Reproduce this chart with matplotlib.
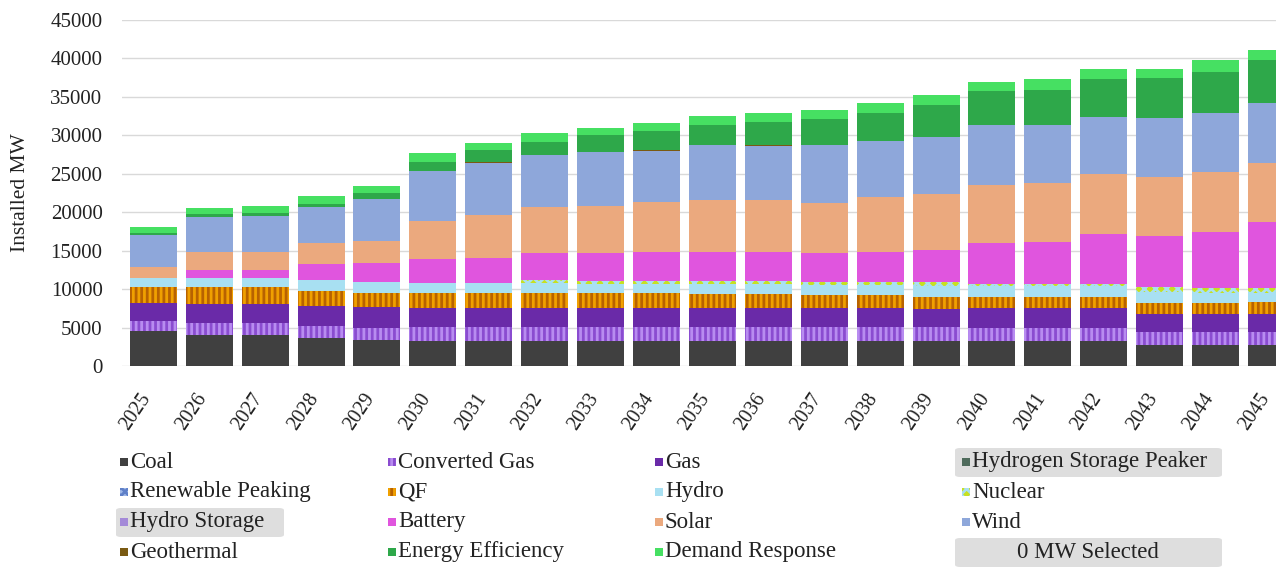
import matplotlib
matplotlib.use("Agg")
import matplotlib.pyplot as plt
from matplotlib.patches import Rectangle, FancyBboxPatch
from matplotlib.transforms import ScaledTranslation
import numpy as np

years = [str(y) for y in range(2025, 2046)]

coal      = [4500, 4050, 4050, 3700, 3400, 3250, 3250, 3250, 3250, 3250, 3200, 3200, 3200, 3200, 3200, 3200, 3200, 3200, 2750, 2750, 2750]
conv_gas  = [1300, 1550, 1550, 1500, 1600, 1850, 1780, 1800, 1800, 1800, 1900, 1900, 1900, 1900, 1850, 1700, 1700, 1700, 1700, 1700, 1700]
gas       = [2400, 2450, 2450, 2600, 2630, 2400, 2470, 2450, 2450, 2450, 2400, 2400, 2400, 2400, 2350, 2600, 2600, 2600, 2300, 2300, 2300]
h2_peaker = [0] * 21
ren_peak  = [0] * 21
qf        = [2050, 2250, 2250, 2000, 1900, 2030, 2030, 2000, 1950, 1950, 1800, 1800, 1750, 1750, 1550, 1500, 1500, 1500, 1500, 1500, 1600]
hydro     = [1150, 1100, 1100, 1400, 1430, 1300, 1220, 1330, 1200, 1200, 1350, 1350, 1300, 1300, 1450, 1350, 1350, 1350, 1400, 1300, 1100]
nuclear   = [0, 0, 0, 0, 0, 0, 0, 350, 350, 350, 400, 400, 400, 400, 550, 350, 350, 350, 570, 550, 650]
hydro_sto = [0] * 21
battery   = [0, 1150, 1150, 2050, 2470, 3040, 3330, 3550, 3650, 3860, 3810, 3810, 3700, 3910, 4130, 5250, 5460, 6460, 6680, 7360, 8660]
solar     = [1500, 2300, 2300, 2700, 2860, 5020, 5550, 5900, 6150, 6500, 6720, 6720, 6580, 7070, 7280, 7580, 7590, 7800, 7710, 7800, 7670]
wind      = [4100, 4550, 4650, 4700, 5380, 6500, 6720, 6800, 6970, 6570, 7150, 7000, 7500, 7360, 7450, 7800, 7580, 7370, 7590, 7670, 7800]
geothermal= [0, 0, 0, 0, 0, 0, 200, 0, 0, 150, 0, 150, 0, 0, 0, 0, 0, 0, 0, 0, 0]
eff       = [350, 400, 450, 400, 780, 1170, 1530, 1730, 2260, 2510, 2600, 3040, 3340, 3640, 4120, 4460, 4630, 4940, 5200, 5340, 5570]
dr        = [750, 750, 800, 1000, 950, 1090, 950, 1080, 860, 1040, 1170, 1080, 1210, 1300, 1300, 1170, 1310, 1340, 1210, 1530, 1280]

series = [
    ("Coal", coal, "#404040", None, None),
    ("Converted Gas", conv_gas, "#8a4cd0", "|||", "#b88cf0"),
    ("Gas", gas, "#6a2aa8", None, None),
    ("Hydrogen Storage Peaker", h2_peaker, "#4f6b5c", None, None),
    ("Renewable Peaking", ren_peak, "#9fb8e8", "xxxx", "#5f80c8"),
    ("QF", qf, "#f0a000", "|||", "#b86200"),
    ("Hydro", hydro, "#a8e0f2", None, None),
    ("Nuclear", nuclear, "#c8e020", "xxx", "#a8e0f2"),
    ("Hydro Storage", hydro_sto, "#a48ad8", None, None),
    ("Battery", battery, "#e055de", None, None),
    ("Solar", solar, "#eba97e", None, None),
    ("Wind", wind, "#8ea7da", None, None),
    ("Geothermal", geothermal, "#7a5a12", None, None),
    ("Energy Efficiency", eff, "#2ea84a", None, None),
    ("Demand Response", dr, "#46e062", None, None),
]

plt.rcParams['font.family'] = ['Liberation Serif', 'DejaVu Serif']
plt.rcParams['hatch.linewidth'] = 2.0

W, H = 1276, 582
fig = plt.figure(figsize=(W / 100, H / 100), dpi=100)
ax = fig.add_axes([122 / W, 216 / H, (W - 122) / W, (562 - 216) / H])

x = np.arange(len(years))
bottom = np.zeros(len(years))
for name, vals, col, hatch, hcol in series:
    v = np.array(vals, dtype=float)
    if hatch:
        ax.bar(x, v, 0.84, bottom=bottom, color=col, edgecolor=hcol, hatch=hatch, linewidth=0, zorder=2)
    else:
        ax.bar(x, v, 0.84, bottom=bottom, color=col, linewidth=0, zorder=2)
    bottom += v

ax.set_xlim(-0.56, 20.08)
ax.set_ylim(0, 45000)
ax.set_yticks(range(0, 45001, 5000))
ax.yaxis.grid(True, color="#d9d9d9", linewidth=1.0, zorder=0)
ax.set_axisbelow(True)
for s in ax.spines.values():
    s.set_visible(False)
ax.tick_params(axis="both", length=0, colors="#222222")
ax.tick_params(axis="y", pad=14, labelsize=15)
ax.set_xticks(x)
ax.set_xticklabels(years, rotation=56, ha="right", rotation_mode="anchor", fontsize=14.5)
ax.tick_params(axis="x", pad=17)
shift = ScaledTranslation(-14 / 100, 0, fig.dpi_scale_trans)
for lab in ax.get_xticklabels():
    lab.set_transform(lab.get_transform() + shift)
ax.set_ylabel("Installed MW", fontsize=15.5, color="#222222")
ax.yaxis.set_label_coords((30 - 122) / (W - 122), 0.5)

# Legend (manual, row-major, 4 columns)
col_x = [120, 388, 655, 962]
row_y = [462, 492, 522, 552]

def fx(px):
    return px / W

def fy(py):
    return (H - py) / H

# highlight boxes
for (x0, y0, x1, y1) in [(955, 448, 1222, 477), (116, 508, 284, 537), (955, 538, 1222, 567)]:
    fig.add_artist(FancyBboxPatch((fx(x0), fy(y1)), fx(x1 - x0), (y1 - y0) / H,
                                  boxstyle="round,pad=0,rounding_size=0.004",
                                  transform=fig.transFigure, facecolor="#dedede",
                                  edgecolor="none", zorder=0))

for i, (name, vals, col, hatch, hcol) in enumerate(series):
    r, c = divmod(i, 4)
    mx, my = col_x[c], row_y[r]
    fig.add_artist(Rectangle((fx(mx), fy(my + 4)), 8 / W, 8 / H, transform=fig.transFigure,
                             facecolor=col, edgecolor=hcol if hatch else "none",
                             hatch=hatch, linewidth=0, zorder=2))
    fig.text(fx(mx + 10), fy(my), name, fontsize=16.5, va="center", ha="left", color="#222222")

fig.text(fx(1088), fy(552), "0 MW Selected", fontsize=16.5, va="center", ha="center", color="#222222")

fig.savefig("out.png", dpi=100)
